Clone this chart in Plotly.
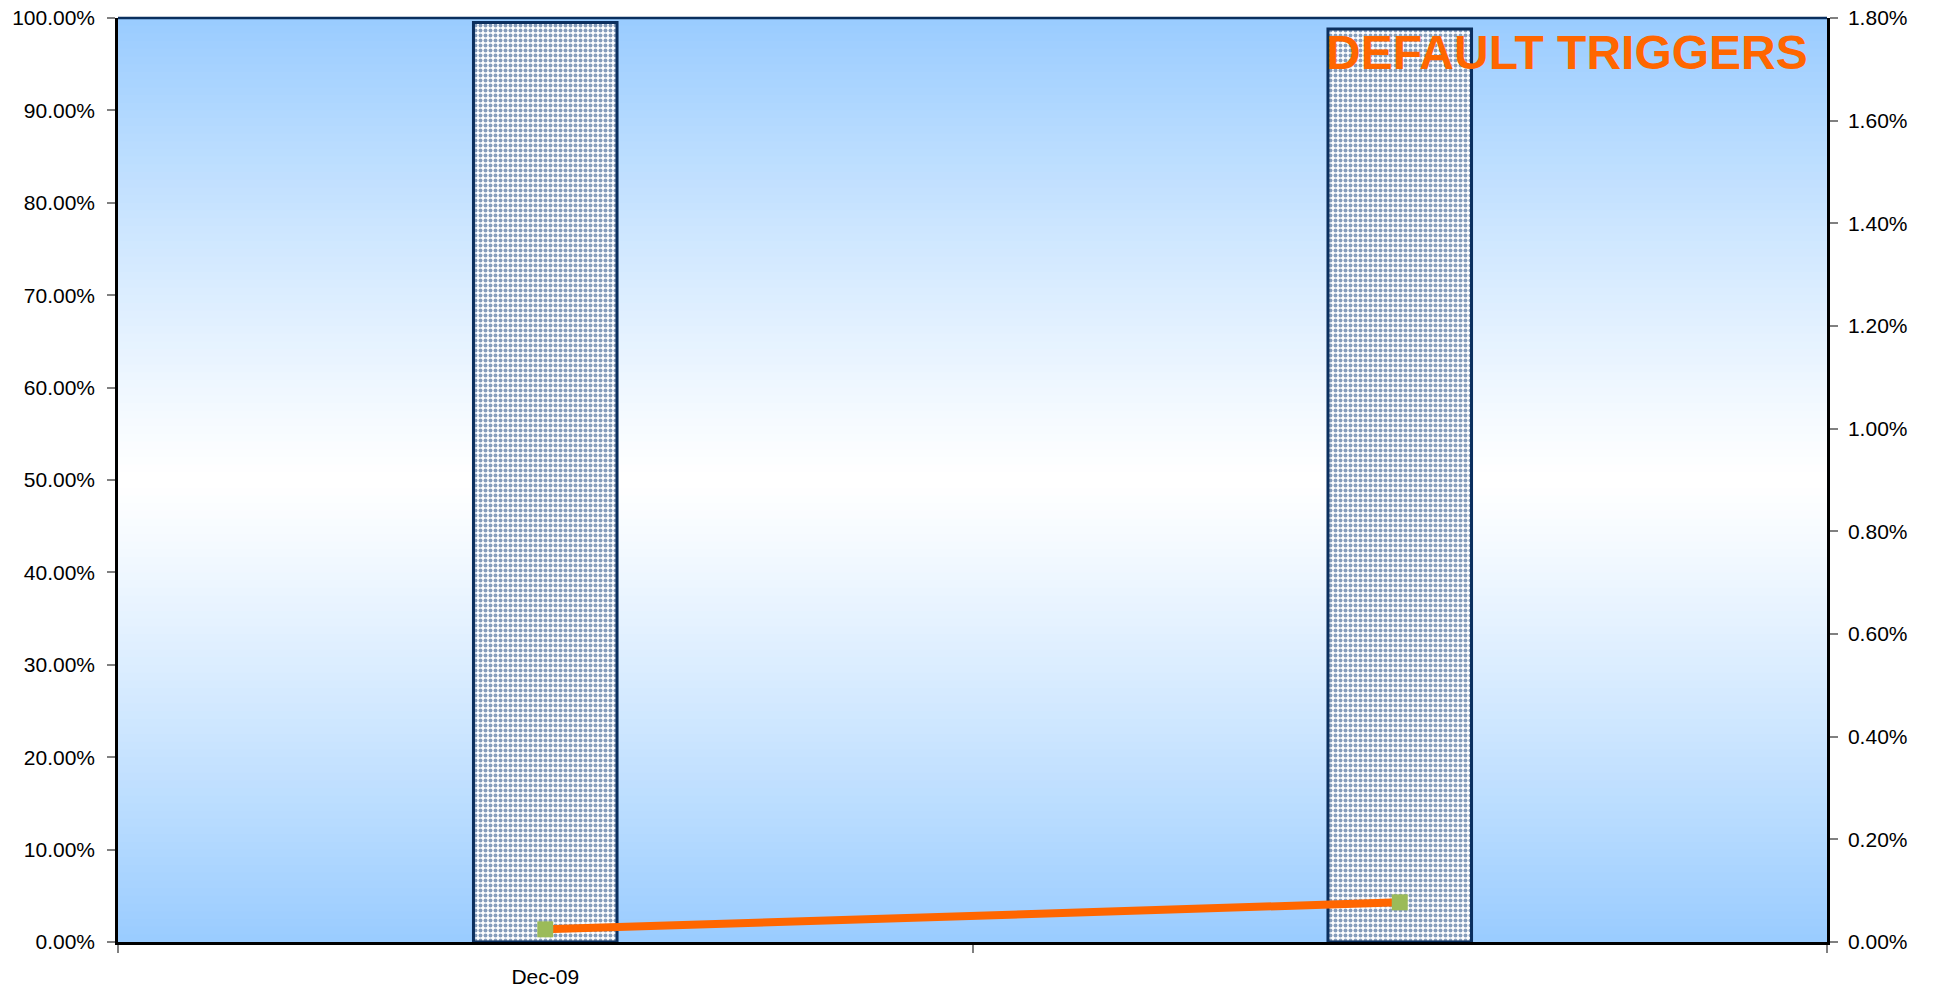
import plotly.graph_objects as go

# ---- data ----
categories = ["Dec-09", "Period 2"]
x_tick_labels = ["Dec-09", ""]
bar_values = [0.995, 0.988]          # left axis (share)
line_values = [0.000247, 0.000773]   # right axis (rate)
title_text = "DEFAULT TRIGGERS"

NAVY = "#0B2F5E"
ORANGE = "#FF6600"
GREEN = "#9BBB59"
EDGE = (153, 204, 255)

fig = go.Figure()

fig.add_trace(go.Bar(
    x=categories, y=bar_values, yaxis="y",
    marker=dict(color="white",
                line=dict(color=NAVY, width=3),
                pattern=dict(shape=".", fgcolor="#0C3A78", bgcolor="white",
                             size=5, solidity=0.5)),
    showlegend=False, hoverinfo="skip",
))

fig.add_trace(go.Scatter(
    x=categories, y=line_values, yaxis="y2", mode="lines+markers",
    line=dict(color=ORANGE, width=8),
    marker=dict(symbol="square", size=16, color=GREEN, line=dict(width=0)),
    showlegend=False, hoverinfo="skip",
))

# vertical gradient background (light blue at edges, white in centre)
N = 120
shapes = []
for i in range(N):
    yc = (i + 0.5) / N
    t = abs(yc - 0.5) / 0.5
    t = t ** 1.15
    r = int(round(255 + (EDGE[0] - 255) * t))
    g = int(round(255 + (EDGE[1] - 255) * t))
    b = int(round(255 + (EDGE[2] - 255) * t))
    shapes.append(dict(type="rect", xref="paper", yref="paper",
                       x0=0, x1=1, y0=i / N, y1=(i + 1) / N + 0.001,
                       fillcolor=f"rgb({r},{g},{b})", line=dict(width=0),
                       layer="below"))

font_family = "Liberation Sans, Arial, sans-serif"

fig.update_layout(
    width=1936, height=992,
    margin=dict(l=118, r=109, t=18, b=50, autoexpand=False),
    paper_bgcolor="white", plot_bgcolor="white",
    bargap=0.832,
    font=dict(family=font_family, size=21, color="black"),
    shapes=shapes,
    xaxis=dict(type="category", tickson="boundaries",
               tickvals=categories, ticktext=x_tick_labels,
               ticks="outside", ticklen=8, tickcolor="#808080", tickwidth=1.5,
               showline=True, linecolor="black", linewidth=2.5, mirror=False,
               showgrid=False, zeroline=False, range=[-0.5, 1.5],
               ticklabelstandoff=14, ticklabeloverflow="allow",
               automargin=False,
               tickfont=dict(size=21, family=font_family)),
    yaxis=dict(range=[0, 1], dtick=0.1, tickformat=".2%",
               ticks="outside", ticklen=8, tickcolor="#808080", tickwidth=1.5,
               showline=True, linecolor="black", linewidth=2.5,
               showgrid=False, zeroline=False, ticklabelstandoff=8,
               ticklabeloverflow="allow", automargin=False,
               tickfont=dict(size=21, family=font_family)),
    yaxis2=dict(range=[0, 0.018], dtick=0.002, tickformat=".2%",
                overlaying="y", side="right",
                ticks="outside", ticklen=8, tickcolor="#808080", tickwidth=1.5,
                showline=True, linecolor="black", linewidth=2.5,
                showgrid=False, zeroline=False, ticklabelstandoff=6,
                ticklabeloverflow="allow", automargin=False,
                tickfont=dict(size=21, family=font_family)),
    annotations=[dict(text=f"<b>{title_text}</b>", xref="paper", yref="paper",
                      x=0.9902, y=0.963, xanchor="right", yanchor="middle",
                      showarrow=False,
                      font=dict(size=48, color=ORANGE, family=font_family))],
)

# top border of the plot area
fig.add_shape(type="line", xref="paper", yref="paper", x0=0, x1=1, y0=1, y1=1,
              line=dict(color=NAVY, width=2.5), layer="above")

fig.write_html("out.html",
               config={"displayModeBar": False},
               post_script="document.body.style.margin='0';"
                           "document.body.style.overflow='hidden';")
